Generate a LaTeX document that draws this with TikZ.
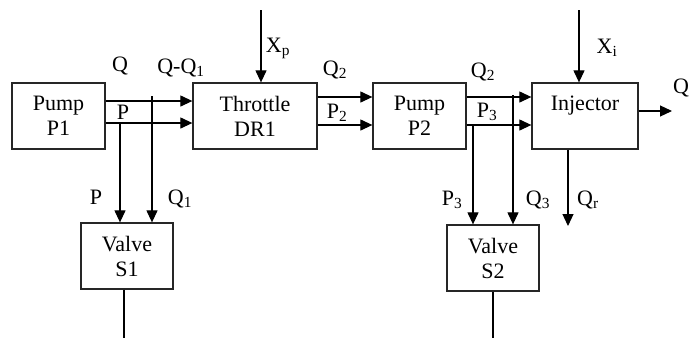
\documentclass[tikz,border=0pt]{standalone}
\usepackage{fontspec}
\setmainfont{Liberation Serif}
\usetikzlibrary{arrows.meta,positioning}

\begin{document}
\begin{tikzpicture}[
    x=1pt, y=-1pt,
    font=\fontsize{22}{25}\selectfont,
    block/.style={draw=black!85, line width=1.3pt, fill=white, align=center, inner sep=0pt},
    flow/.style={-{Triangle[length=12pt, width=11pt]}, line width=1.2pt},
    wire/.style={line width=1.2pt},
    sig/.style={inner sep=0pt}
]
    \useasboundingbox (0,0) rectangle (689,338);

    % Blocks
    \node[block, minimum width=93pt, minimum height=66pt] (pumpA) at (58.5,116) {Pump\\P1};
    \node[block, minimum width=124pt, minimum height=66pt] (throttle) at (255,116) {Throttle\\DR1};
    \node[block, minimum width=93pt, minimum height=66pt] (pumpB) at (419.5,116) {Pump\\P2};
    \node[block, minimum width=106pt, minimum height=66pt] (injector) at (585,116) {Injector\\\mbox{}};
    \node[block, minimum width=92pt, minimum height=66pt] (valveA) at (127,256) {Valve\\S1};
    \node[block, minimum width=92pt, minimum height=66pt] (valveB) at (493,258) {Valve\\S2};

    % Main line P1 -> DR1 -> P2 -> Injector
    \draw[flow] ([yshift=15pt]pumpA.east) -- ([yshift=15pt]throttle.west);
    \draw[flow] ([yshift=-7pt]pumpA.east) -- ([yshift=-7pt]throttle.west);
    \draw[flow] ([yshift=19pt]throttle.east) -- ([yshift=19pt]pumpB.west);
    \draw[flow] ([yshift=-9pt]throttle.east) -- ([yshift=-9pt]pumpB.west);
    \draw[flow] ([yshift=19pt]pumpB.east) -- ([yshift=19pt]injector.west);
    \draw[flow] ([yshift=-9pt]pumpB.east) -- ([yshift=-9pt]injector.west);

    % Branches to the valves
    \coordinate (pTapA) at (120,123);
    \coordinate (qTapA) at (152,96);
    \coordinate (pTapB) at (473,126);
    \coordinate (qTapB) at (513,95);
    \draw[flow] (pTapA) -- (pTapA |- valveA.north);
    \draw[flow] (qTapA) -- (qTapA |- valveA.north);
    \draw[flow] (pTapB) -- (pTapB |- valveB.north);
    \draw[flow] (qTapB) -- (qTapB |- valveB.north);

    % Valve outlets
    \coordinate (floor) at (0,338);
    \draw[wire] ([xshift=-3pt]valveA.south) -- ([xshift=-3pt]valveA.south |- floor);
    \draw[wire] (valveB.south) -- (valveB.south |- floor);

    % Control inputs and injector outputs
    \coordinate (xpIn) at (261,10);
    \coordinate (xiIn) at (579,10);
    \coordinate (qOut) at (672,111);
    \coordinate (qrOut) at (568,226);
    \draw[flow] (xpIn) -- (xpIn |- throttle.north);
    \draw[flow] (xiIn) -- (xiIn |- injector.north);
    \draw[flow] (qOut -| injector.east) -- (qOut);
    \draw[flow] (qrOut |- injector.south) -- (qrOut);

    % Signal labels
    \node[sig] (lblQ) at (120,66) {Q};
    \node[sig] (lblQQ) at (181,68) {Q-Q\textsubscript{1}};
    \node[sig] (lblP) at (123,112) {P};
    \node[sig] (lblPv) at (96,197) {P};
    \node[sig] (lblQv) at (180,199) {Q\textsubscript{1}};
    \node[sig] (lblXp) at (278,48) {X\textsubscript{p}};
    \node[sig] (lblQt) at (335,70) {Q\textsubscript{2}};
    \node[sig] (lblPt) at (337,113) {P\textsubscript{2}};
    \node[sig] (lblQp) at (483,72) {Q\textsubscript{2}};
    \node[sig] (lblPp) at (487,112) {P\textsubscript{3}};
    \node[sig] (lblXi) at (607,48) {X\textsubscript{i}};
    \node[sig] (lblQo) at (681,88) {Q};
    \node[sig] (lblPs) at (452,200) {P\textsubscript{3}};
    \node[sig] (lblQs) at (538,200) {Q\textsubscript{3}};
    \node[sig] (lblQr) at (588,200) {Q\textsubscript{r}};
\end{tikzpicture}
\end{document}
